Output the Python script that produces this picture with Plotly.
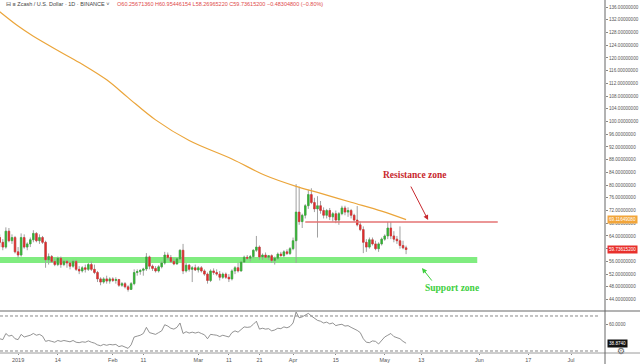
import pandas as pd
import plotly.graph_objects as go

# ---------------- data ----------------
start_date = "2018-12-26"

opens = [63.5,62,60.5,65.5,62.5,63.5,
 59,58,63.5,60.5,61.5,62.8,64.8,62.5,63.5,62,56.5,57.5,56,55,57,55,56,55.5,54.5,56,53.5,53,54,53.5,55,53.5,52.5,50.5,49.5,50.5,49.8,
 50.5,50,50.3,48.5,49,48,47.2,49,52.5,52.8,53.2,53.6,57.4,54.5,53.8,53,54.3,55.5,58,57.2,56,55.2,56.8,59.5,53,54.8,53.5,54,
 53.3,54,53,52,50,53,52.5,52,51,52,51,50.5,53,54,53,55.8,57.3,57,57.5,59.5,60.5,57.4,58,57.3,57.8,56.3,57,58.3,57.8,59,58.5,
 60,62.5,71.5,68.5,70.5,73.5,77,74.5,72.5,73.5,72,70.5,72,70,71,69,71,72.8,71.5,72,70.5,69,67.5,66,62,60.5,62.8,61.5,60,61.5,
 63,64,66.5,64,63,62.5,61,60.26]
highs = [64.5,63,66.7,66.5,64.5,64,
 60.5,64.8,64.5,62,63.5,65.8,65.2,64.5,64,62.5,58.5,58,57,57.5,57.5,56.5,56.5,56,56.5,56.5,54.5,54.5,55,55.5,56,55,53,51,51,51.5,51,
 51,51,50.5,49.5,49.5,48.5,49.5,53.5,53.5,53.5,54,58.6,57.8,55,54.5,54.8,56,59,58.8,58,57,57,59.8,61.5,55.5,55.2,54.5,55,
 54.5,54.5,53.5,52.5,53.5,53.8,53.5,53,52.5,52.5,52,53.5,54.5,55.5,56,57.8,58,58,59.8,64,61,58.5,58.8,58,58.2,57.5,58.8,59,59.5,59.8,60.5,
 63.5,80.3,79.5,71,74,78.5,79,76,76.5,75,73,72.5,72.8,71.5,72,71.5,73.5,73.5,73,72.5,71,73.4,68.5,67,63,63.5,63.5,62.5,62,63.5,
 64.5,68.4,68.4,65.5,64,67,62.5,60.95]
lows = [60.5,59.5,60,62,61.5,58.5,
 57,57.5,60,59.5,60.5,62,62,61.5,61.5,54,55,55.5,54.5,54.5,54,54.5,54,53.5,54,53,52,52.5,52.5,53,53,52,49.5,48.5,49,49,49,
 49.5,49,48,48,47.5,46.5,47,48.5,51.5,51.8,51.5,53,53.5,53,52.5,52.5,53.8,55,56.5,55.5,54.8,55,56.5,52,52.5,52.8,49.5,53,
 52.5,52.5,51.5,49,49.5,51.8,51.5,50,50.5,50.5,49.5,50,52,52.5,52.8,55.5,56.5,56,57,59,56.5,56.5,57,56.5,55.5,55,56.5,57.5,57.3,58,58,
 59.5,55.5,67.5,66.5,69.5,72.5,74,71.5,63.5,71,69.5,69.5,69,68.5,68,67.5,70.5,70.5,70,69.5,68.5,67,65.5,58.6,59,60,61,59.5,59,61,
 62.5,63,63,62,61.5,60,59.8,58.27]
closes = [62,60.5,65.5,62.5,63.5,59,
 58,63.5,60.5,61.5,62.8,64.8,62.5,63.5,62,56.5,57.5,56,55,57,55,56,55.5,54.5,56,53.5,53,54,53.5,55,53.5,52.5,50.5,49.5,50.5,49.8,50.5,
 50,50.3,48.5,49,48,47.2,49,52.5,52.8,53.2,53.6,57.4,54.5,53.8,53,54.3,55.5,58,57.2,56,55.2,56.8,59.5,53,54.8,53.5,54,53.3,
 54,53,52,50,53,52.5,52,51,52,51,50.5,53,54,53,55.8,57.3,57,57.5,59.5,60.5,57.4,58,57.3,57.8,56.3,57,58.3,57.8,59,58.5,60,
 62.5,71.5,68.5,70.5,73.5,77,74.5,72.5,73.5,72,70.5,72,70,71,69,71,72.8,71.5,72,70.5,69,67.5,66,62,60.5,62.8,61.5,60,61.5,63,
 64,66.5,64,63,62.5,61,60.26,59.74]
rsi = [44,43,50,47,48,44,
 43,49,46,47,48,50,48,49,47,41,42,41,40,42,41,42,41.5,40.5,42,40,39.5,40.5,40,41.5,40,39,37,36,37.5,36.5,37.5,
 37,37.5,35,36,34.5,33,37,46,47,48,50,57,51,50,49,51,53,60,58.5,56,55,57,62,50,52,50.5,51.5,50.5,
 51.5,50,48.5,44,49,48.5,48,46.5,48,47,46,51,53,51.5,55,57.5,57,57.5,60.5,64,55,56,55,55.5,53,54,56,55.5,57.5,56.5,58,
 62,74.5,68,69,71,73,70,67,65,64,62,63,61,62,59,60,60.5,58.5,59,57,55.5,53.5,51,44,40,39.5,41.5,41,38,41.5,
 46,48,50,46.5,45,44,41,38.87]

ma_dates = ["2018-12-26","2019-01-01","2019-01-06","2019-01-15","2019-01-22","2019-01-30","2019-02-06",
            "2019-02-15","2019-02-26","2019-03-12","2019-03-23","2019-04-02","2019-04-09","2019-04-20",
            "2019-04-30","2019-05-08"]
ma_values = [134.5,130,126.8,121.8,118,113.1,107.5,100.5,94,88.2,83,79.6,77.7,74.6,71.8,69.12]

price_ticks = [44,48,52,56,60,64,68,72,76,80,84,88,92,96,100,104,108,112,116,120,124,128,132,136]
date_ticks = ["2019-01-01","2019-01-14","2019-02-01","2019-02-11","2019-03-01","2019-03-11","2019-03-21",
              "2019-04-01","2019-04-15","2019-05-01","2019-05-13","2019-06-01","2019-06-17","2019-07-01"]
date_labels = ["2019","14","Feb","11","Mar","11","21","Apr","15","May","13","Jun","17","Jul"]
rsi_ticks = [60]
rsi_labels = ["60.0000"]

resistance_level = 68.4
resistance_start, resistance_end = "2019-04-05", "2019-06-07"
support_low, support_high = 55.5, 57.4
support_start, support_end = "2018-12-20", "2019-05-31 07:00"

header_name = "⊟ ≡ Zcash / U.S. Dollar · 1D · BINANCE ˅"
header_values = "O60.25671360 H60.95446154 L58.26965220 C59.73615200 −0.48304800 (−0.80%)"
ma_last_label = "69.11649080"
price_last_label = "59.73615200"
rsi_last_label = "38.8740"

n = len(closes)
assert len(opens) == len(highs) == len(lows) == n == len(rsi), (len(opens), len(highs), len(lows), n, len(rsi))
dates = pd.date_range(start_date, periods=n, freq="D")

body_hi = [max(o, c) for o, c in zip(opens, closes)]
body_lo = [min(o, c) for o, c in zip(opens, closes)]

GREEN = "#33b233"
RED = "#e02c2c"
WICK = "#a0a0a0"
FONT = "Liberation Sans"

fig = go.Figure()
fig.add_trace(go.Candlestick(
    x=dates, open=opens, high=highs, low=lows, close=closes,
    increasing=dict(line=dict(color=WICK, width=1), fillcolor=WICK),
    decreasing=dict(line=dict(color=WICK, width=1), fillcolor=WICK),
    whiskerwidth=0, showlegend=False, hoverinfo="skip", xaxis="x", yaxis="y"))
fig.add_trace(go.Candlestick(
    x=dates, open=opens, high=body_hi, low=body_lo, close=closes,
    increasing=dict(line=dict(color=GREEN, width=0.5), fillcolor=GREEN),
    decreasing=dict(line=dict(color=RED, width=0.5), fillcolor=RED),
    whiskerwidth=0, showlegend=False, hoverinfo="skip", xaxis="x", yaxis="y"))
fig.add_trace(go.Scatter(
    x=ma_dates, y=ma_values, mode="lines",
    line=dict(color="#eba53a", width=1.2, shape="spline"),
    showlegend=False, hoverinfo="skip", xaxis="x", yaxis="y"))
fig.add_trace(go.Scatter(
    x=dates, y=rsi, mode="lines", line=dict(color="#777777", width=0.8),
    showlegend=False, hoverinfo="skip", xaxis="x2", yaxis="y2"))

x_range = ["2018-12-26 02:00", "2019-07-12 02:30"]
PLOT_H = 353
split = (PLOT_H - 311) / PLOT_H

fig.update_layout(
    width=640, height=364,
    margin=dict(l=0, r=35, t=0, b=364 - PLOT_H, pad=0, autoexpand=False),
    paper_bgcolor="white", plot_bgcolor="white",
    font=dict(family=FONT, color="#555555"),
    xaxis=dict(domain=[0, 1], anchor="y", type="date", range=x_range, automargin=False,
               showticklabels=False, showgrid=False, zeroline=False,
               rangeslider=dict(visible=False)),
    yaxis=dict(domain=[split, 1], anchor="x", side="right", range=[40.4, 138.2], automargin=False,
               tickvals=price_ticks, ticktext=[f"{v:.8f}" for v in price_ticks],
               tickfont=dict(size=4.6, color="#555555"), ticks="outside", ticklen=2,
               tickcolor="#888888", showgrid=False, zeroline=False),
    xaxis2=dict(domain=[0, 1], anchor="y2", type="date", range=x_range, matches="x", automargin=False,
                tickvals=date_ticks, ticktext=date_labels,
                tickfont=dict(size=5.5, color="#555555"), ticks="outside", ticklen=1,
                tickcolor="#888888", showgrid=False, zeroline=False,
                rangeslider=dict(visible=False)),
    yaxis2=dict(domain=[0, split], anchor="x2", side="right", range=[27.7, 75.7], automargin=False,
                tickvals=rsi_ticks, ticktext=rsi_labels,
                tickfont=dict(size=4.6, color="#555555"), ticks="outside", ticklen=2,
                tickcolor="#888888", showgrid=False, zeroline=False),
)

shapes = [
    dict(type="rect", xref="x", yref="y", x0=support_start, x1=support_end,
         y0=support_low, y1=support_high, fillcolor="#80ec80", line=dict(width=0), layer="below"),
    dict(type="line", xref="x", yref="y", x0=resistance_start, x1=resistance_end,
         y0=resistance_level, y1=resistance_level, line=dict(color="#e57373", width=1.5)),
    dict(type="line", xref="paper", yref="y2", x0=0, x1=0.99, y0=70, y1=70,
         line=dict(color="#888888", width=1, dash="3px,2px")),
    dict(type="line", xref="paper", yref="y2", x0=0, x1=0.99, y0=30, y1=30,
         line=dict(color="#888888", width=1, dash="3px,2px")),
    dict(type="line", xref="paper", yref="paper", x0=0, x1=640 / 605, y0=split, y1=split,
         line=dict(color="#9a9a9a", width=1.5)),
    dict(type="line", xref="paper", yref="paper", x0=0, x1=640 / 605, y0=0, y1=0,
         line=dict(color="#9a9a9a", width=1)),
    dict(type="line", xref="paper", yref="paper", x0=1, x1=1, y0=-11 / PLOT_H, y1=1,
         line=dict(color="#666666", width=1)),
]
fig.update_layout(shapes=shapes)

annotations = [
    dict(xref="paper", yref="paper", x=4 / 605, y=1 - 4.5 / PLOT_H, xanchor="left", yanchor="middle",
         showarrow=False, font=dict(size=5.5, family=FONT, color="#444444"),
         text=f"{header_name}&nbsp;&nbsp;&nbsp;&nbsp;&nbsp;<span style='color:#e04a4a'>{header_values}</span>"),
    dict(xref="paper", yref="y", x=1, y=ma_values[-1], xanchor="left", yanchor="middle", xshift=2,
         showarrow=False, bgcolor="#f2a53a", borderpad=1, font=dict(size=4.6, color="white", family=FONT),
         text=ma_last_label),
    dict(xref="paper", yref="y", x=1, y=closes[-1], xanchor="left", yanchor="middle", xshift=2,
         showarrow=False, bgcolor="#e8302c", borderpad=1, font=dict(size=4.6, color="white", family=FONT),
         text=price_last_label),
    dict(xref="paper", yref="y2", x=1, y=rsi[-1], xanchor="left", yanchor="middle", xshift=2,
         showarrow=False, bgcolor="#111111", borderpad=1, font=dict(size=4.6, color="white", family=FONT),
         text=rsi_last_label),
    dict(xref="x", yref="y", x="2019-05-11", y=83.2, showarrow=False,
         text="<b>Resistance zone</b>", font=dict(family="Liberation Serif", size=9.5, color="#c8282e")),
    dict(xref="x", yref="y", x="2019-05-23", y=47.6, showarrow=False,
         text="<b>Support zone</b>", font=dict(family="Liberation Serif", size=9.5, color="#3ecf3e")),
    dict(xref="x", yref="y", x="2019-05-15 05:00", y=69.0, ax=-18, ay=-35, text="",
         showarrow=True, arrowhead=2, arrowsize=1, arrowwidth=1, arrowcolor="#c8282e"),
    dict(xref="x", yref="y", x="2019-05-13 05:00", y=53.9, ax=11, ay=14, text="",
         showarrow=True, arrowhead=2, arrowsize=1, arrowwidth=1, arrowcolor="#3ecf3e"),
    dict(xref="paper", yref="paper", x=627 / 605, y=-5 / PLOT_H, showarrow=False,
         text="⚙", font=dict(size=9, color="#666666", family="DejaVu Sans")),
]
fig.update_layout(annotations=annotations)

fig.write_html("out.html", config={"displayModeBar": False},
               post_script="document.body.style.margin='0px';document.body.style.overflow='hidden';")
